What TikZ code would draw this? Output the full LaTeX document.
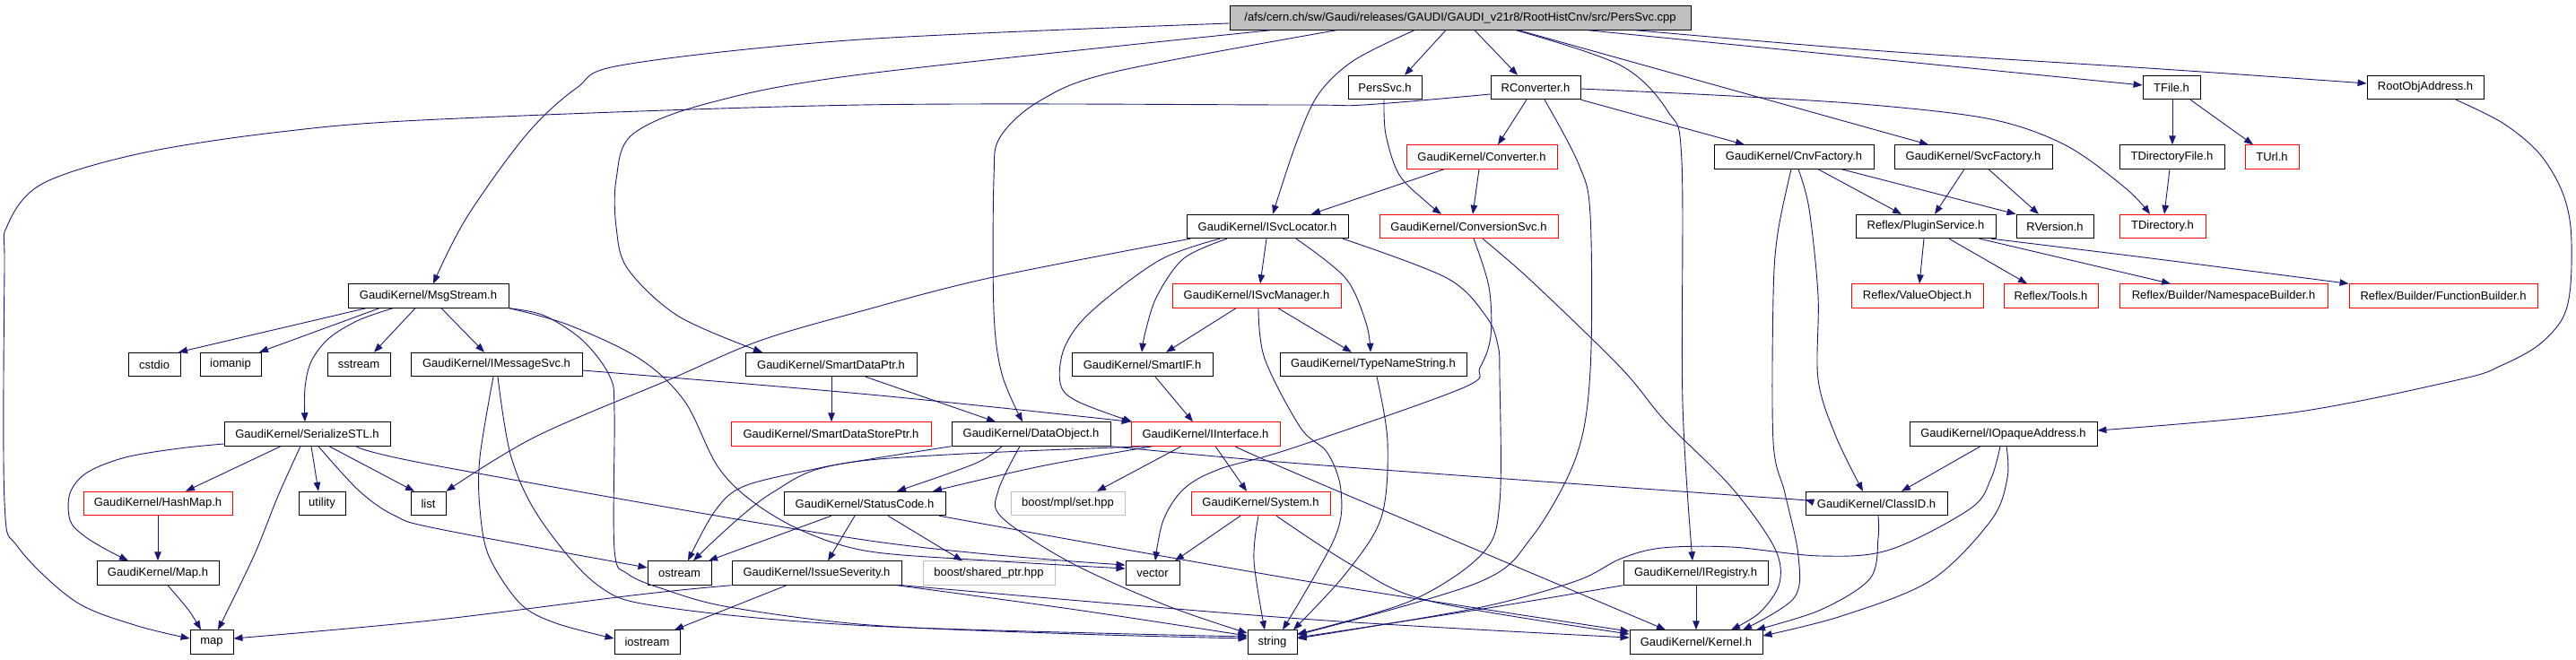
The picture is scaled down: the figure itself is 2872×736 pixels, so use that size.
\documentclass[tikz,border=0pt]{standalone}
\usepackage{fontspec}
\setmainfont{Liberation Sans}
\usetikzlibrary{arrows.meta}
\definecolor{edgec}{RGB}{25,25,112}
\definecolor{grayb}{RGB}{191,191,191}
\tikzset{
 nb/.style={draw=black, line width=0.9pt, minimum height=26.5pt, inner sep=0pt, font=\fontsize{13}{15}\selectfont, text=black},
 redb/.style={draw=red},
 grayc/.style={draw=grayb},
 rootb/.style={fill=grayb},
 e/.style={draw=edgec, line width=0.9pt, -{Triangle[length=10pt,width=7.5pt]}},
 sm/.style={smooth, tension=0.55}
}
\newcommand\bx[6]{\node[nb,#6,minimum width=#3pt] (#1) at (#2,#4) {#5};}
\begin{document}
\begin{tikzpicture}[x=1pt,y=-1pt]
\path[fill=white] (0,0) rectangle (2872,736);
\useasboundingbox (0,0) rectangle (2872,736);
% nodes
\bx{root}{1628}{514}{20}{/afs/cern.ch/sw/Gaudi/releases/GAUDI/GAUDI\_v21r8/RootHistCnv/src/PersSvc.cpp}{rootb}
\bx{persh}{1544}{82}{97.5}{PersSvc.h}{}
\bx{rconv}{1712}{100}{97.5}{RConverter.h}{}
\bx{tfile}{2421}{64}{97.5}{TFile.h}{}
\bx{roa}{2704}{130}{97.5}{RootObjAddress.h}{}
\bx{conv}{1652}{168}{175}{GaudiKernel/Converter.h}{redb}
\bx{cnvf}{2000}{178}{175}{GaudiKernel/CnvFactory.h}{}
\bx{svcf}{2200}{176}{175}{GaudiKernel/SvcFactory.h}{}
\bx{tdirf}{2421.5}{117}{175}{TDirectoryFile.h}{}
\bx{turl}{2533}{60}{175}{TUrl.h}{redb}
\bx{isl}{1413}{180}{252.5}{GaudiKernel/ISvcLocator.h}{}
\bx{csvc}{1637.5}{199}{252.5}{GaudiKernel/ConversionSvc.h}{redb}
\bx{plug}{2147}{156}{252.5}{Reflex/PluginService.h}{}
\bx{rver}{2291}{86}{252.5}{RVersion.h}{}
\bx{tdir}{2411}{96}{252.5}{TDirectory.h}{redb}
\bx{msg}{477.5}{179}{330}{GaudiKernel/MsgStream.h}{}
\bx{ism}{1401}{188}{330}{GaudiKernel/ISvcManager.h}{redb}
\bx{vobj}{2137.5}{147}{330}{Reflex/ValueObject.h}{redb}
\bx{tools}{2286.5}{105}{330}{Reflex/Tools.h}{redb}
\bx{nsb}{2479}{232}{330}{Reflex/Builder/NamespaceBuilder.h}{redb}
\bx{fb}{2724}{210}{330}{Reflex/Builder/FunctionBuilder.h}{redb}
\bx{cstdio}{172}{58}{406.5}{cstdio}{}
\bx{iomanip}{257}{68}{406.5}{iomanip}{}
\bx{sstream}{400}{70}{406.5}{sstream}{}
\bx{imsg}{553.5}{191}{406.5}{GaudiKernel/IMessageSvc.h}{}
\bx{sdp}{926.5}{191}{406.5}{GaudiKernel/SmartDataPtr.h}{}
\bx{sif}{1273.5}{157}{406.5}{GaudiKernel/SmartIF.h}{}
\bx{tns}{1531}{208}{406.5}{GaudiKernel/TypeNameString.h}{}
\bx{ser}{342.5}{185}{484}{GaudiKernel/SerializeSTL.h}{}
\bx{sdsp}{926.5}{223}{484}{GaudiKernel/SmartDataStorePtr.h}{redb}
\bx{dobj}{1149.5}{177}{484}{GaudiKernel/DataObject.h}{}
\bx{iint}{1344}{166}{484}{GaudiKernel/IInterface.h}{redb}
\bx{ioa}{2233.5}{209}{484}{GaudiKernel/IOpaqueAddress.h}{}
\bx{hmap}{176}{166}{561.5}{GaudiKernel/HashMap.h}{redb}
\bx{util}{359}{52}{561.5}{utility}{}
\bx{list}{477.5}{39}{561.5}{list}{}
\bx{sc}{964}{180}{561.5}{GaudiKernel/StatusCode.h}{}
\bx{mpl}{1190.5}{127}{561.5}{boost/mpl/set.hpp}{grayc}
\bx{sys}{1405.5}{155}{561.5}{GaudiKernel/System.h}{redb}
\bx{cid}{2092}{158}{561.5}{GaudiKernel/ClassID.h}{}
\bx{mapm}{176}{136}{639}{GaudiKernel/Map.h}{}
\bx{ostream}{757.5}{71}{639}{ostream}{}
\bx{iss}{910.5}{189}{639}{GaudiKernel/IssueSeverity.h}{}
\bx{shp}{1102.5}{147}{639}{boost/shared\_ptr.hpp}{grayc}
\bx{vector}{1285}{60}{639}{vector}{}
\bx{ireg}{1890.5}{161}{639}{GaudiKernel/IRegistry.h}{}
\bx{map}{236}{48}{716}{map}{}
\bx{iostream}{721.5}{73}{716}{iostream}{}
\bx{string}{1418.5}{55}{716}{string}{}
\bx{kernel}{1891}{148}{716}{GaudiKernel/Kernel.h}{}
% root edges
\draw[e] plot[sm] coordinates {(root.west |- 0,26) (960,44) (697,72) (643,98) (587,150) (520,243) (msg.north -| 483,0)};
\draw[e] plot[sm] coordinates {(root.south -| 1417,0) (960,83) (790,115) (705,150) (687,200) (687,253) (700,300) (757,353) (sdp.north -| 850,0)};
\draw[e] plot[sm] coordinates {(root.south -| 1490,0) (1243,80) (1160,112) (1115,153) (1108,200) (1108,347) (1117,417) (dobj.north -| 1140,0)};
\draw[e] plot[sm] coordinates {(root.south -| 1577,0) (1510,67) (1470,105) (1445,160) (isl.north -| 1419,0)};
\draw[e] (root.south -| 1612,0) -- (persh.north -| 1566,0);
\draw[e] (root.south -| 1644,0) -- (rconv.north -| 1692,0);
\draw[e] plot[sm] coordinates {(root.south -| 1690,0) (1807,73) (1860,125) (1875,180) (1876,450) (ireg.north -| 1887,0)};
\draw[e] (root.south -| 1693,0) -- (svcf.north -| 2150,0);
\draw[e] (root.south -| 1770,0) -- (tfile.west |- 0,95);
\draw[e] plot[sm] coordinates {(root.south -| 1823,0) (2100,57) (2410,77) (roa.west |- 0,93)};
% RConverter
\draw[e] plot[sm] coordinates {(rconv.west |- 0,105) (1520,117) (1440,117) (960,117) (490,133) (313,147) (157,171) (47,205) (8,252) (5,300) (5,560) (20,610) (83,670) (150,697) (map.west |- 0,712)};
\draw[e] (rconv.south -| 1702,0) -- (conv.north -| 1670,0);
\draw[e] plot[sm] coordinates {(rconv.south -| 1722,0) (1760,183) (1773,240) (1773,413) (1757,510) (1707,600) (1647,650) (string.east |- 0,708)};
\draw[e] (rconv.south east) -- (cnvf.north -| 1945,0);
\draw[e] plot[sm] coordinates {(rconv.east |- 0,99) (1930,107) (2087,117) (2220,133) (2303,162) (2370,210) (tdir.north -| 2397,0)};
% PersSvc.h, Converter, ConversionSvc
\draw[e] plot[sm] coordinates {(persh.south -| 1543,0) (1545,150) (1560,195) (1590,225) (csvc.north -| 1607,0)};
\draw[e] (conv.south -| 1649,0) -- (csvc.north -| 1642,0);
\draw[e] (conv.south -| 1610,0) -- (isl.north -| 1462,0);
\draw[e] plot[sm] coordinates {(csvc.south -| 1653,0) (1707,313) (1807,410) (1857,470) (1930,543) (1978,610) (1984,650) (1962,683) (kernel.north -| 1930,0)};
\draw[e] plot[sm] coordinates {(csvc.south -| 1643,0) (1660,320) (1662,375) (1650,410) (1630,433) (1440,500) (1360,523) (1320,545) (1297,580) (vector.north -| 1288,0)};
% ISvcLocator
\draw[e] plot[sm] coordinates {(isl.south -| 1327,0) (1103,310) (960,347) (847,380) (747,423) (597,487) (list.north east)};
\draw[e] (isl.south -| 1412,0) -- (ism.north -| 1405,0);
\draw[e] plot[sm] coordinates {(isl.south -| 1368,0) (1320,288) (1290,330) (1277,370) (sif.north -| 1273,0)};
\draw[e] plot[sm] coordinates {(isl.south -| 1360,0) (1293,290) (1217,347) (1187,387) (1182,427) (1200,447) (iint.north -| 1262,0)};
\draw[e] plot[sm] coordinates {(isl.south -| 1445,0) (1500,310) (1523,360) (tns.north -| 1528,0)};
\draw[e] plot[sm] coordinates {(isl.south -| 1497,0) (1613,310) (1657,353) (1670,385) (1672,420) (1672,560) (1653,617) (1573,670) (string.east |- 0,707)};
% ISvcManager, TypeNameString, SmartIF
\draw[e] (ism.south -| 1378,0) -- (sif.north -| 1300,0);
\draw[e] (ism.south -| 1425,0) -- (tns.north -| 1507,0);
\draw[e] plot[sm] coordinates {(ism.south -| 1403,0) (1410,400) (1450,477) (1480,505) (1495,547) (1488,600) (string.north -| 1430,0)};
\draw[e] plot[sm] coordinates {(tns.south -| 1535,0) (1547,493) (1540,577) (1500,640) (string.north -| 1442,0)};
\draw[e] (sif.south -| 1288,0) -- (iint.north -| 1330,0);
% MsgStream
\draw[e] (msg.south -| 408,0) -- (cstdio.north -| 199,0);
\draw[e] (msg.south -| 423,0) -- (iomanip.north -| 289,0);
\draw[e] plot[sm] coordinates {(msg.south -| 438,0) (400,357) (367,377) (347,403) (340,433) (ser.north -| 340,0)};
\draw[e] (msg.south -| 463,0) -- (sstream.north -| 417,0);
\draw[e] (msg.south -| 492,0) -- (imsg.north -| 540,0);
\draw[e] plot[sm] coordinates {(msg.south east) (607,352) (650,380) (680,420) (685,460) (685,613) (700,640) (740,657) (813,677) (970,697) (1200,707) (string.west |- 0,712)};
\draw[e] plot[sm] coordinates {(msg.south east) (633,362) (713,400) (763,447) (800,520) (840,560) (897,593) (970,615) (1100,625) (vector.west |- 0,634)};
% SerializeSTL
\draw[e] plot[sm] coordinates {(ser.west |- 0,495) (200,500) (140,510) (97,527) (78,550) (78,580) (93,597) (117,612) (mapm.north -| 143,0)};
\draw[e] (ser.south -| 313,0) -- (hmap.north -| 207,0);
\draw[e] plot[sm] coordinates {(ser.south -| 335,0) (310,553) (283,620) (map.north -| 243,0)};
\draw[e] (ser.south -| 347,0) -- (util.north -| 355,0);
\draw[e] (ser.south -| 367,0) -- (list.north -| 462,0);
\draw[e] plot[sm] coordinates {(ser.south -| 355,0) (400,547) (440,575) (490,590) (ostream.west |- 0,633)};
\draw[e] plot[sm] coordinates {(ser.south -| 397,0) (490,520) (970,603) (vector.west |- 0,630)};
\draw[e] (hmap.south -| 176,0) -- (mapm.north -| 176,0);
\draw[e] plot[sm] coordinates {(mapm.south -| 187,0) (210,680) (map.north -| 224,0)};
% IMessageSvc
\draw[e] plot[sm] coordinates {(imsg.south -| 550,0) (535,510) (535,567) (545,620) (580,673) (620,695) (iostream.west |- 0,712)};
\draw[e] plot[sm] coordinates {(imsg.south -| 555,0) (570,510) (603,580) (667,653) (740,677) (970,698) (string.west |- 0,710)};
\draw[e] plot[sm] coordinates {(imsg.east |- 0,413) (970,440) (iint.north west)};
% SmartDataPtr
\draw[e] (sdp.south -| 927,0) -- (sdsp.north -| 927,0);
\draw[e] (sdp.south -| 965,0) -- (dobj.north -| 1110,0);
% DataObject
\draw[e] plot[sm] coordinates {(dobj.south west) (970,512) (913,522) (830,542) (797,570) (ostream.north -| 767,0)};
\draw[e] plot[sm] coordinates {(dobj.south -| 1117,0) (1087,517) (sc.north -| 1000,0)};
\draw[e] plot[sm] coordinates {(dobj.south -| 1137,0) (1113,547) (1117,577) (1193,627) (1300,675) (string.west |- 0,706)};
\draw[e] plot[sm] coordinates {(dobj.south east) (1450,517) (1930,552) (cid.west |- 0,557)};
% IInterface
\draw[e] plot[sm] coordinates {(iint.south -| 1280,0) (960,514) (860,550) (ostream.north -| 773,0)};
\draw[e] plot[sm] coordinates {(iint.south -| 1285,0) (1160,520) (sc.north -| 1040,0)};
\draw[e] (iint.south -| 1317,0) -- (mpl.north -| 1223,0);
\draw[e] (iint.south -| 1355,0) -- (sys.north -| 1390,0);
\draw[e] plot[sm] coordinates {(iint.south -| 1377,0) (1450,530) (kernel.north -| 1857,0)};
% StatusCode
\draw[e] (sc.south -| 927,0) -- (ostream.north -| 790,0);
\draw[e] (sc.south -| 953,0) -- (iss.north -| 923,0);
\draw[e] (sc.south -| 990,0) -- (shp.north -| 1073,0);
\draw[e] plot[sm] coordinates {(sc.south -| 1047,0) (1450,647) (kernel.west |- 0,704)};
% IssueSeverity
\draw[e] plot[sm] coordinates {(iss.south west) (713,663) (480,692) (map.east |- 0,712)};
\draw[e] (iss.south -| 877,0) -- (iostream.north -| 752,0);
\draw[e] plot[sm] coordinates {(iss.south -| 1000,0) (1200,680) (string.west |- 0,709)};
\draw[e] plot[sm] coordinates {(iss.south east) (1450,690) (kernel.west |- 0,711)};
% System
\draw[e] (sys.south -| 1383,0) -- (vector.north -| 1310,0);
\draw[e] plot[sm] coordinates {(sys.south -| 1403,0) (1398,625) (string.north -| 1410,0)};
\draw[e] plot[sm] coordinates {(sys.south -| 1423,0) (1507,630) (1593,670) (kernel.west |- 0,707)};
% IRegistry
\draw[e] plot[sm] coordinates {(ireg.south west) (1647,680) (string.east |- 0,711)};
\draw[e] (ireg.south -| 1891,0) -- (kernel.north -| 1891,0);
% CnvFactory, SvcFactory
\draw[e] (cnvf.south -| 2027,0) -- (plug.north -| 2120,0);
\draw[e] (cnvf.south -| 2053,0) -- (rver.north west);
\draw[e] plot[sm] coordinates {(cnvf.south -| 1997,0) (1982,260) (1977,330) (1977,493) (1990,550) (2005,620) (2000,667) (kernel.north -| 1943,0)};
\draw[e] plot[sm] coordinates {(cnvf.south -| 2005,0) (2017,233) (2027,330) (2027,423) (2047,487) (cid.north -| 2077,0)};
\draw[e] (svcf.south -| 2190,0) -- (plug.north -| 2157,0);
\draw[e] (svcf.south -| 2217,0) -- (rver.north -| 2273,0);
% PluginService
\draw[e] (plug.south -| 2145,0) -- (vobj.north -| 2140,0);
\draw[e] (plug.south -| 2173,0) -- (tools.north -| 2260,0);
\draw[e] (plug.south -| 2207,0) -- (nsb.north -| 2420,0);
\draw[e] plot[sm] coordinates {(plug.south -| 2220,0) (2390,287) (fb.north west)};
% TFile
\draw[e] (tfile.south -| 2422,0) -- (tdirf.north -| 2422,0);
\draw[e] (tfile.south -| 2442,0) -- (turl.north -| 2512,0);
\draw[e] (tdirf.south -| 2419,0) -- (tdir.north -| 2413,0);
% RootObjAddress, IOpaqueAddress, ClassID
\draw[e] plot[sm] coordinates {(roa.south -| 2738,0) (2790,137) (2830,170) (2855,210) (2866,253) (2866,317) (2857,355) (2830,385) (2790,407) (2743,423) (2557,460) (ioa.east |- 0,480)};
\draw[e] (ioa.south -| 2208,0) -- (cid.north -| 2120,0);
\draw[e] plot[sm] coordinates {(ioa.south -| 2230,0) (2220,533) (2197,567) (2107,613) (2030,620) (1930,610) (1853,611) (1807,623) (1757,648) (1647,678) (string.east |- 0,712)};
\draw[e] plot[sm] coordinates {(ioa.south -| 2237,0) (2238,533) (2220,580) (2153,647) (2053,687) (kernel.east |- 0,709)};
\draw[e] plot[sm] coordinates {(cid.south -| 2094,0) (2094,600) (2085,645) (2030,680) (kernel.north -| 1958,0)};
\end{tikzpicture}
\end{document}
